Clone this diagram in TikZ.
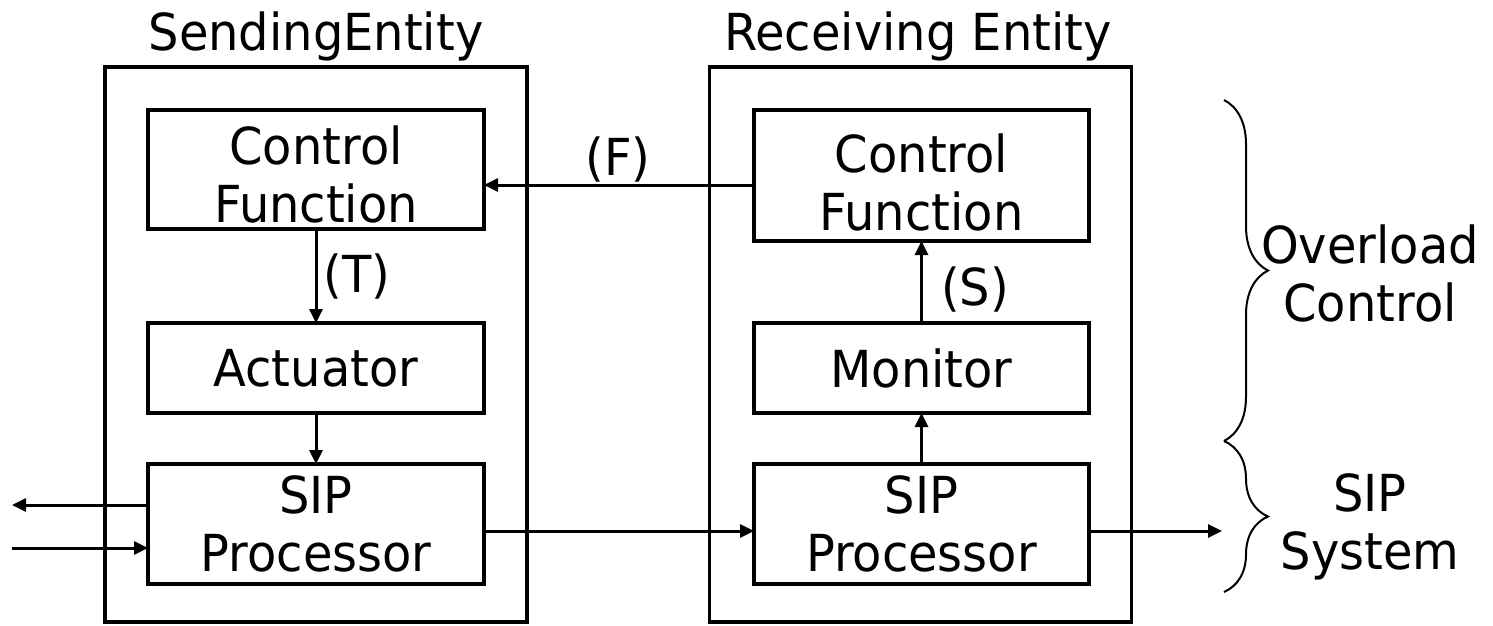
\documentclass[tikz,border=0pt]{standalone}
\usepackage{fontspec}
\setmainfont{DejaVu Sans}[FakeStretch=0.94]
\usetikzlibrary{arrows.meta,decorations.pathreplacing}
\begin{document}
\begin{tikzpicture}[x=1pt,y=-1pt,
  every node/.style={font=\fontsize{51}{58}\selectfont, inner sep=0pt, outer sep=0pt},
  outer/.style={draw, line width=3.5pt, minimum width=422pt, minimum height=555pt},
  blk/.style={draw, line width=3.5pt, minimum width=336pt, align=center},
  txt/.style={align=center},
  arr/.style={line width=3pt, -{Triangle[length=14pt,width=13pt]}},
  brc/.style={line width=2pt, decorate, decoration={brace, amplitude=44pt, aspect=0.5}}
]
\useasboundingbox (0,0) rectangle (1493,625);
% outer boxes
\node[outer] (se) at (316,344.5) {};
\node[outer] (re) at (920.5,344.5) {};
\node (set) at (316,36) {SendingEntity};
\node (ret) at (918,36) {Receiving Entity};
% left blocks
\node[blk, minimum height=119pt] (lcf) at (316,169.5) {};
\node[txt] (lcft) at ([yshift=-5pt]lcf.center) {Control\\Function};
\node[blk, minimum height=90pt] (act) at (316,368) {Actuator};
\node[blk, minimum height=120pt] (lsip) at (316,524) {SIP\\Processor};
% right blocks
\node[blk, minimum width=335pt, minimum height=131pt] (rcf) at (921.5,175.5) {};
\node[txt] (rcft) at ([yshift=-7pt]rcf.center) {Control\\Function};
\node[blk, minimum width=335pt, minimum height=90pt] (mon) at (921.5,368) {Monitor};
\node[blk, minimum width=335pt, minimum height=120pt] (rsip) at (921.5,524) {SIP\\Processor};
% connectors
\draw[arr] (rcf.west |- 0,185) -- (lcf.east |- 0,185);
\node (fl) at (618,160) {(F)};
\draw[arr] (lcf.south) -- (act.north);
\node (tl) at (357,277) {(T)};
\draw[arr] (act.south) -- (lsip.north);
\draw[arr] (mon.north) -- (rcf.south);
\node (sl) at (975,290) {(S)};
\draw[arr] (rsip.north) -- (mon.south);
\coordinate (outl) at (12,505);
\coordinate (inl) at (12,548);
\coordinate (outr) at (1222,531);
\draw[arr] (lsip.west |- outl) -- (outl);
\draw[arr] (inl) -- (lsip.west |- inl);
\draw[arr] (lsip.east |- 0,531) -- (rsip.west |- 0,531);
\draw[arr] (rsip.east |- outr) -- (outr);
% braces
\draw[brc] (1224,100) -- (1224,441);
\draw[brc] (1224,441) -- (1224,592);
\node[txt] (ov) at (1370,273) {Overload\\Control};
\node[txt] (ss) at (1370,527) {SIP\\System};
\end{tikzpicture}
\end{document}
